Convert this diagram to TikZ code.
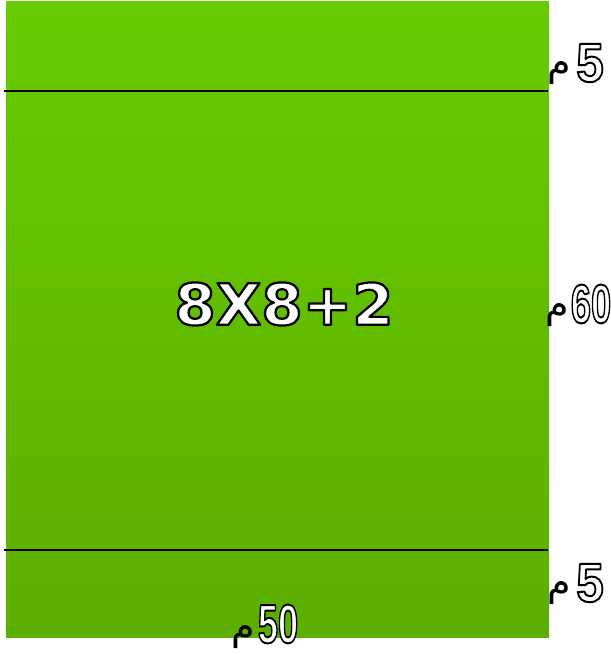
\documentclass[tikz,border=0pt]{standalone}
\usepackage{fontspec}
\setmainfont{DejaVu Sans}
\newfontfamily\arabicfont[Script=Arabic]{DejaVu Sans}
\newfontfamily\numfont{Liberation Sans}
\TeXXeTstate=1
\newcommand{\outlinetext}[2]{{\color{white}\special{pdf:literal direct 2 Tr #1 w 0 G 1 j}#2\special{pdf:literal direct 0 Tr}}}
\begin{document}
\begin{tikzpicture}[x=1pt,y=-1pt,
  divline/.style={line width=2pt,black},
  bigtext/.style={inner sep=0pt,font=\fontsize{57}{60}\selectfont\bfseries},
  numtext/.style={inner sep=0pt,font=\numfont\fontsize{55}{58}\selectfont\bfseries},
  mimtext/.style={inner sep=0pt,font=\arabicfont\fontsize{38}{42}\selectfont}]
\useasboundingbox (0,0) rectangle (610,655);
\shade[top color={rgb,255:red,104;green,204;blue,0}, bottom color={rgb,255:red,92;green,174;blue,0}] (6,2) rectangle (549,637);
\coordinate (l1a) at (4,91); \coordinate (l1b) at (548,91);
\coordinate (l2a) at (4,550); \coordinate (l2b) at (548,550);
\draw[divline] (l1a) -- (l1b);
\draw[divline] (l2a) -- (l2b);
\node[bigtext] (main) at (284,304) {\scalebox{1.04}[1]{\outlinetext{2.2}{8X8+2}}};
% top 5 m
\node[numtext] (n5a) at (590,63) {\scalebox{0.9}[1]{\outlinetext{2}{5}}};
\node[mimtext] (m5a) at (559,73) {\beginR م\endR};
% 60 m
\node[numtext] (n60) at (591,304) {\scalebox{0.66}[1]{\outlinetext{2}{60}}};
\node[mimtext] (m60) at (557,315) {\beginR م\endR};
% bottom 5 m
\node[numtext] (n5b) at (590,583) {\scalebox{0.9}[1]{\outlinetext{2}{5}}};
\node[mimtext] (m5b) at (559,593) {\beginR م\endR};
% 50 m
\node[numtext] (n50) at (278,624) {\scalebox{0.66}[1]{\outlinetext{2}{50}}};
\node[mimtext] (m50) at (243,637) {\beginR م\endR};
\end{tikzpicture}
\end{document}
